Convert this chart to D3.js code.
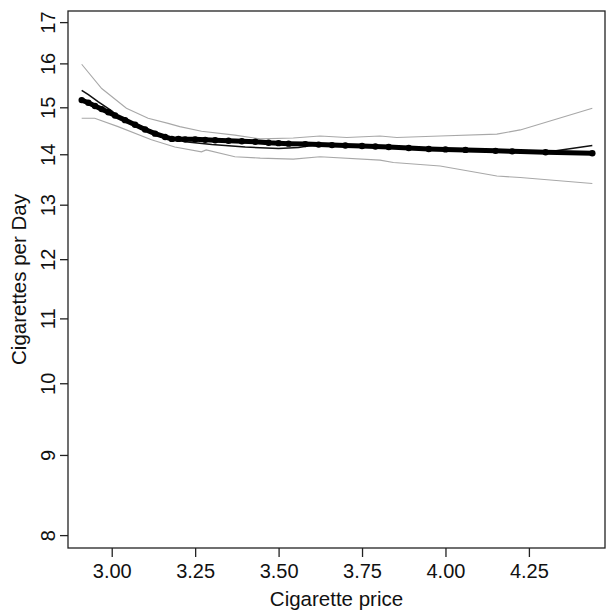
<!DOCTYPE html>
<html>
<head>
<meta charset="utf-8">
<script src="https://cdn.jsdelivr.net/npm/d3@7"></script>
<style>
  html, body { margin: 0; padding: 0; background: #fff; }
  svg { display: block; }
  text { font-family: "Liberation Sans", Arial, Helvetica, sans-serif; fill: #111; }
</style>
</head>
<body>
<svg id="chart" width="614" height="616"></svg>
<script>
// ---- data ----
const xTicks = [3.00, 3.25, 3.50, 3.75, 4.00, 4.25];
const yTicks = [8, 9, 10, 11, 12, 13, 14, 15, 16, 17];

// thick estimate line (with points)
const estPrice = [2.91, 2.93, 2.95, 2.97, 2.99, 3.01, 3.04, 3.07, 3.10, 3.13, 3.16, 3.18, 3.20, 3.22, 3.25, 3.28, 3.31, 3.35, 3.39, 3.43, 3.47, 3.50, 3.53, 3.58, 3.62, 3.66, 3.70, 3.75, 3.79, 3.83, 3.89, 3.95, 4.00, 4.06, 4.15, 4.20, 4.30, 4.44];
const estCigs  = [15.16, 15.10, 15.03, 14.96, 14.89, 14.82, 14.72, 14.62, 14.52, 14.43, 14.36, 14.32, 14.32, 14.31, 14.31, 14.30, 14.29, 14.28, 14.27, 14.26, 14.24, 14.23, 14.22, 14.21, 14.20, 14.19, 14.18, 14.17, 14.16, 14.15, 14.13, 14.11, 14.10, 14.09, 14.07, 14.06, 14.04, 14.02];

// thin black alternative line
const altPrice = [2.91, 2.93, 2.96, 3.00, 3.02, 3.10, 3.17, 3.22, 3.30, 3.40, 3.50, 3.56, 3.615, 3.80, 4.00, 4.15, 4.31, 4.44];
const altCigs  = [15.38, 15.28, 15.12, 14.92, 14.79, 14.55, 14.33, 14.26, 14.20, 14.15, 14.12, 14.14, 14.20, 14.16, 14.10, 14.07, 14.05, 14.18];

// grey upper band
const upPrice = [2.91, 2.97, 3.044, 3.109, 3.169, 3.204, 3.269, 3.369, 3.445, 3.544, 3.624, 3.704, 3.804, 3.854, 3.984, 4.154, 4.224, 4.44];
const upCigs  = [15.98, 15.42, 14.98, 14.76, 14.65, 14.58, 14.48, 14.40, 14.32, 14.34, 14.38, 14.35, 14.38, 14.35, 14.38, 14.42, 14.51, 14.98];

// grey lower band
const loPrice = [2.91, 2.949, 3.019, 3.119, 3.189, 3.269, 3.283, 3.369, 3.445, 3.544, 3.624, 3.804, 3.844, 3.984, 4.154, 4.224, 4.44];
const loCigs  = [14.76, 14.76, 14.58, 14.30, 14.15, 14.05, 14.09, 13.95, 13.92, 13.90, 13.95, 13.88, 13.83, 13.76, 13.56, 13.53, 13.41];

// ---- layout ----
const L = 68, R = 605, T = 11, B = 548;
const FONT = "'Liberation Sans', Arial, Helvetica, sans-serif";
const svg = d3.select("#chart");

const x = d3.scaleLinear().domain([2.869, 4.478]).range([L, R]);
const y = d3.scaleLog().domain([7.85, 17.28]).range([B, T]);

const line = d3.line().x(d => x(d[0])).y(d => y(d[1]));
const zip = (a, b) => a.map((v, i) => [v, b[i]]);

// bands
svg.append("path").datum(zip(upPrice, upCigs)).attr("d", line)
  .attr("fill", "none").attr("stroke", "#a8a8a8").attr("stroke-width", 1.1);
svg.append("path").datum(zip(loPrice, loCigs)).attr("d", line)
  .attr("fill", "none").attr("stroke", "#a8a8a8").attr("stroke-width", 1.1);

// thin black line
svg.append("path").datum(zip(altPrice, altCigs)).attr("d", line)
  .attr("fill", "none").attr("stroke", "#111").attr("stroke-width", 1.5);

// thick line + points
svg.append("path").datum(zip(estPrice, estCigs)).attr("d", line)
  .attr("fill", "none").attr("stroke", "#000").attr("stroke-width", 5)
  .attr("stroke-linejoin", "round").attr("stroke-linecap", "round");
svg.append("g").selectAll("circle").data(zip(estPrice, estCigs)).join("circle")
  .attr("cx", d => x(d[0])).attr("cy", d => y(d[1])).attr("r", 3.2).attr("fill", "#000");

// box
svg.append("rect").attr("x", L).attr("y", T).attr("width", R - L).attr("height", B - T)
  .attr("fill", "none").attr("stroke", "#222").attr("stroke-width", 1.3);

// x axis
const xAxis = d3.axisBottom(x).tickValues(xTicks).tickFormat(d3.format(".2f"))
  .tickSize(9).tickPadding(7);
const gx = svg.append("g").attr("transform", `translate(0,${B})`).call(xAxis);
gx.select(".domain").remove();
gx.selectAll(".tick line").attr("stroke", "#222").attr("stroke-width", 1.3);
gx.selectAll(".tick text").attr("font-size", 20).attr("fill", "#111").attr("font-family", FONT);

// y axis
const yAxis = d3.axisLeft(y).tickValues(yTicks).tickFormat(d3.format("d"))
  .tickSize(8).tickPadding(5);
const gy = svg.append("g").attr("transform", `translate(${L},0)`).call(yAxis);
gy.select(".domain").remove();
gy.selectAll(".tick line").attr("stroke", "#222").attr("stroke-width", 1.3);
gy.selectAll(".tick text")
  .attr("font-size", 20).attr("fill", "#111").attr("font-family", FONT)
  .attr("x", null).attr("dy", null)
  .attr("text-anchor", "middle")
  .attr("transform", "translate(-20,0) rotate(-90)")
  .attr("y", 0).attr("dy", "0.35em");

// axis titles
svg.append("text").attr("x", (L + R) / 2).attr("y", 606)
  .attr("text-anchor", "middle").attr("font-size", 20.5).attr("font-family", FONT)
  .text("Cigarette price");
svg.append("text").attr("transform", `translate(26,${(T + B) / 2}) rotate(-90)`)
  .attr("text-anchor", "middle").attr("font-size", 20.5).attr("font-family", FONT)
  .text("Cigarettes per Day");
</script>
</body>
</html>
